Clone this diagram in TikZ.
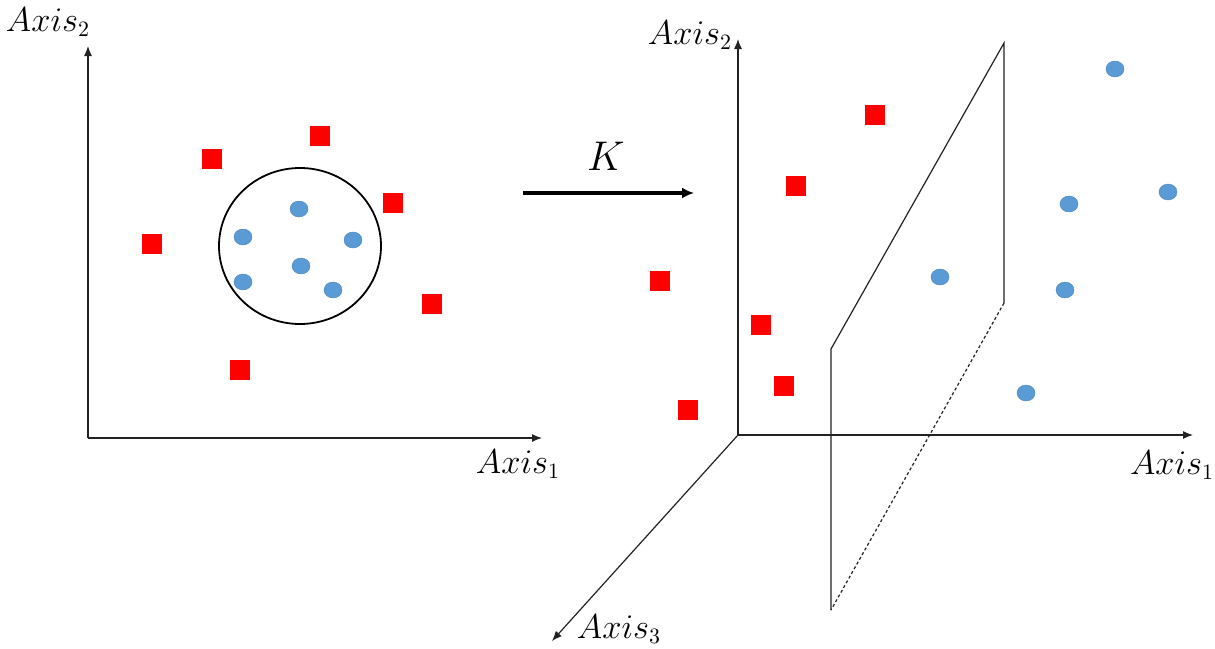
\documentclass[tikz,border=0pt]{standalone}
\usepackage{tikz}
\usetikzlibrary{arrows.meta}
\definecolor{sq}{HTML}{FF0000}
\definecolor{pt}{HTML}{5B9BD5}
\definecolor{ax}{HTML}{222222}

\begin{document}
\begin{tikzpicture}[x=0.5pt,y=-0.5pt,
    axis/.style={ax,line width=0.6pt,-{Latex[length=5pt,width=4pt]}},
    lab/.style={font=\fontsize{16}{19}\selectfont,inner sep=0pt},
    redsq/.style={fill=sq,minimum size=10pt,inner sep=0pt},
  ]
  \useasboundingbox (0,0) rectangle (1215,648);

  % left picture: input space
  \coordinate (o1) at (88,438);
  \coordinate (x1) at (542,438);
  \coordinate (y1) at (88,46);
  \draw[axis] (o1) -- (x1);
  \draw[axis] (o1) -- (y1);
  \node[lab] (ly1) at (48,22) {$Axis_2$};
  \node[lab] (lx1) at (518,464) {$Axis_1$};
  \draw[black,line width=0.9pt] (300,246) ellipse (40.5pt and 39pt);
  \foreach \x/\y in {320/136,212/159,393/203,152/244,432/304,240/370}
    \node[redsq] at (\x,\y) {};
  \foreach \x/\y in {299/209,243/237,353/240,301/266,243/282,333/290}
    \fill[pt,draw=pt!85!black,line width=0.2pt] (\x,\y) ellipse (4.5pt and 4pt);

  % mapping
  \coordinate (ka) at (523,193);
  \coordinate (kb) at (694,193);
  \draw[black,line width=1.6pt,-{Latex[length=6pt,width=5.5pt]}] (ka) -- (kb);
  \node[lab,font=\fontsize{21}{24}\selectfont] (k) at (606,156) {$K$};

  % right picture: feature space
  \coordinate (o2) at (738,435);
  \coordinate (x2) at (1193,435);
  \coordinate (y2) at (738,39);
  \coordinate (z2) at (552,641);
  \draw[axis] (o2) -- (x2);
  \draw[axis] (o2) -- (y2);
  \draw[axis] (o2) -- (z2);
  \node[lab] (ly2) at (690,35) {$Axis_2$};
  \node[lab] (lx2) at (1172,465) {$Axis_1$};
  \node[lab] (lz2) at (619,629) {$Axis_3$};

  % separating plane
  \coordinate (pa) at (1004,43);
  \coordinate (pb) at (1004,303);
  \coordinate (pc) at (831,349);
  \coordinate (pd) at (831,610);
  \draw[ax,line width=0.6pt] (pd) -- (pc) -- (pa) -- (pb);
  \draw[ax,line width=0.6pt,dash pattern=on 1.5pt off 1.2pt] (pb) -- (pd);

  \foreach \x/\y in {875/115,796/186,660/281,761/325,784/386,688/410}
    \node[redsq] at (\x,\y) {};
  \foreach \x/\y in {1115/69,1069/204,1168/192,940/277,1065/290,1026/393}
    \fill[pt,draw=pt!85!black,line width=0.2pt] (\x,\y) ellipse (4.5pt and 4pt);
\end{tikzpicture}
\end{document}
